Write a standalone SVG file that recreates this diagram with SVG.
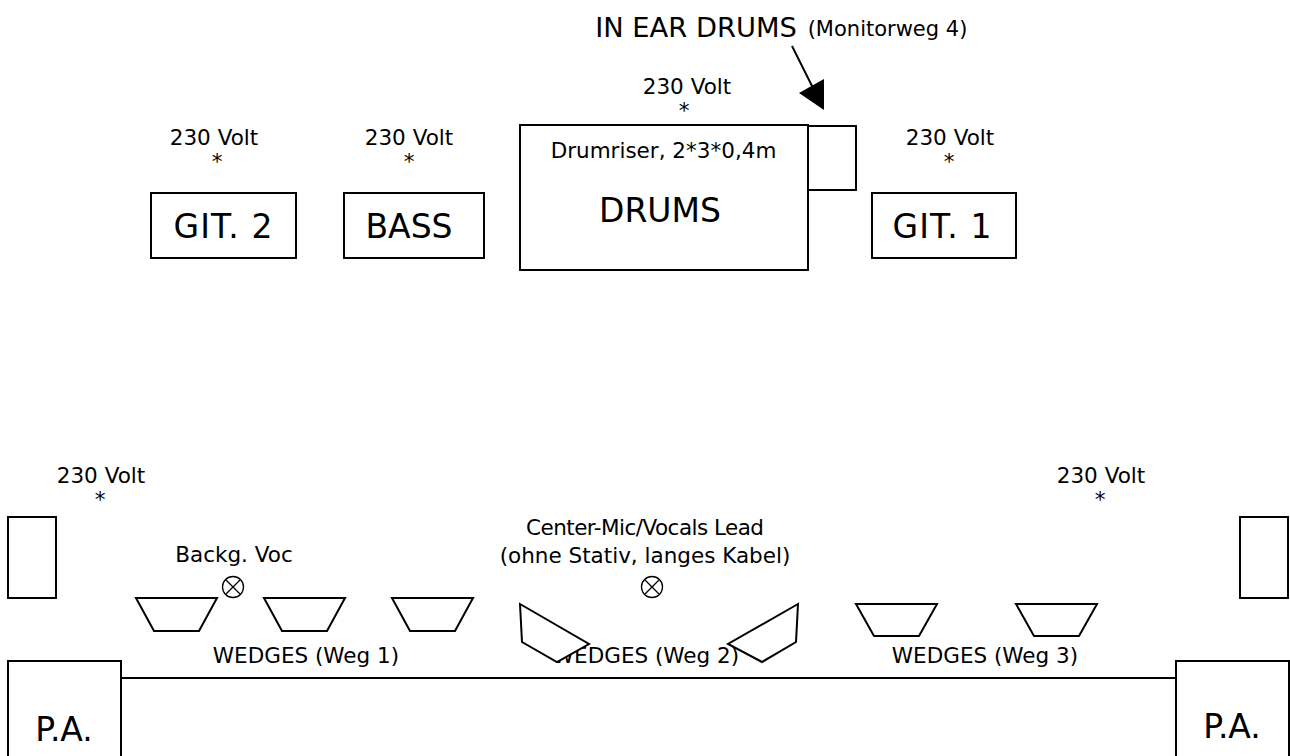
<svg xmlns="http://www.w3.org/2000/svg" width="1290" height="756" viewBox="0 0 1290 756">
<style>
text{font-family:"DejaVu Sans",Verdana,sans-serif;fill:#000;text-anchor:middle}
.s{font-size:21.5px}.l{font-size:33px}
.b{fill:#fff;stroke:#000;stroke-width:2}
.w{fill:none;stroke:#000;stroke-width:2}
.f{fill:#fff;stroke:#000;stroke-width:2}
.t{fill:none;stroke:#000;stroke-width:1.3}
</style>
<rect width="1290" height="756" fill="#fff"/>
<g id="stage"><path class="w" d="M121 678H1176"/></g>
<g id="connectors"><path d="M792 46L813 88" stroke="#000" stroke-width="2" fill="none"/><polygon points="799,93 824,79 824,110" fill="#000"/></g>
<g id="in-ear"><rect class="b" x="808" y="126" width="48" height="64"/></g>
<g id="drums"><rect class="b" x="520" y="125" width="288" height="145"/><text class="s" x="663.500" y="158">Drumriser, 2*3*0,4m</text><text class="l" x="660" y="222">DRUMS</text></g>
<g id="git2"><rect class="b" x="151" y="193" width="145" height="65"/><text class="l" x="223" y="238" textLength="99">GIT. 2</text></g>
<g id="bass"><rect class="b" x="344" y="193" width="140" height="65"/><text class="l" x="409" y="238">BASS</text></g>
<g id="git1"><rect class="b" x="872" y="193" width="144" height="65"/><text class="l" x="942" y="238" textLength="99">GIT. 1</text></g>
<g id="wedge5"><polygon class="f" points="798,604 728,644 762,662 796,642"/></g>
<g id="labels">
<text font-size="27.300" x="696" y="37">IN EAR DRUMS</text><text font-size="21" x="887.500" y="36">(Monitorweg 4)</text>
<text class="s" x="687" y="94">230 Volt</text><text class="s" x="684" y="118">*</text>
<text class="s" x="214" y="145">230 Volt</text><text class="s" x="217" y="169">*</text>
<text class="s" x="409" y="145">230 Volt</text><text class="s" x="409" y="169">*</text>
<text class="s" x="950" y="145">230 Volt</text><text class="s" x="949" y="169">*</text>
<text class="s" x="101" y="483">230 Volt</text><text class="s" x="100" y="507">*</text>
<text class="s" x="1101" y="483">230 Volt</text><text class="s" x="1100" y="507">*</text>
<text class="s" x="234" y="562">Backg. Voc</text>
<text class="s" x="645" y="535" textLength="238">Center-Mic/Vocals Lead</text>
<text class="s" x="645" y="563">(ohne Stativ, langes Kabel)</text>
<text class="s" x="306" y="663">WEDGES (Weg 1)</text>
<text class="s" x="646" y="663">WEDGES (Weg 2)</text>
<text class="s" x="985" y="663">WEDGES (Weg 3)</text>
</g>
<g id="side-left"><rect class="b" x="8" y="517" width="48" height="81"/></g>
<g id="side-right"><rect class="b" x="1240" y="517" width="48" height="81"/></g>
<g id="mic-backing"><circle class="t" cx="233" cy="587" r="10.500"/><path class="t" d="M226 580L240 594M240 580L226 594"/></g>
<g id="mic-center"><circle class="t" cx="652" cy="587" r="10.500"/><path class="t" d="M645 580L659 594M659 580L645 594"/></g>
<g id="wedge1"><polygon class="w" points="136,598 217,598 199,631 154,631"/></g>
<g id="wedge2"><polygon class="w" points="264,598 345,598 327,631 282,631"/></g>
<g id="wedge3"><polygon class="w" points="392,598 473,598 455,631 410,631"/></g>
<g id="wedge4"><polygon class="f" points="520,604 589,644 557,662 522,642"/></g>
<g id="wedge6"><polygon class="w" points="856,604 937,604 919,636 874,636"/></g>
<g id="wedge7"><polygon class="w" points="1016,604 1097,604 1079,636 1034,636"/></g>
<g id="pa-left"><path class="b" d="M8 756V661H121V756"/><text class="l" x="64" y="741">P.A.</text></g>
<g id="pa-right"><path class="b" d="M1176 756V661H1289V756"/><text class="l" x="1232" y="738">P.A.</text></g>
</svg>
